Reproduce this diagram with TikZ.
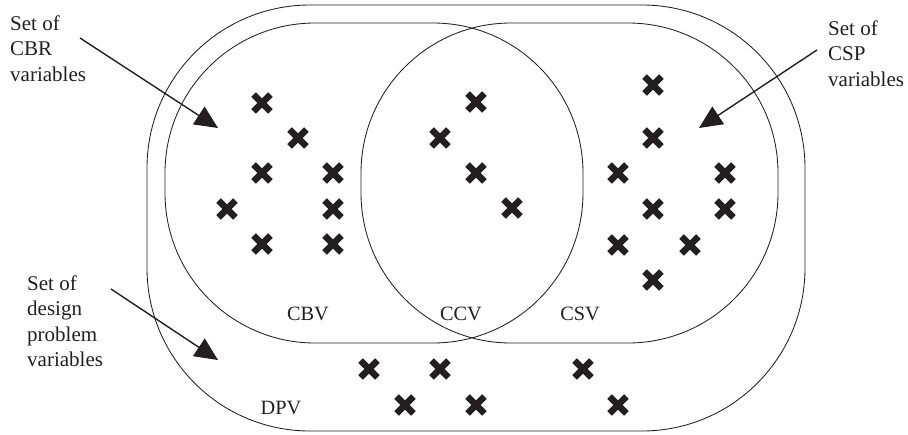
\documentclass[tikz,border=0pt]{standalone}
\usepackage{fontspec}
\setmainfont{Liberation Serif}
\usetikzlibrary{arrows.meta}
\definecolor{ink}{HTML}{231F20}
\tikzset{
  setline/.style={draw=ink, line width=0.85pt},
  arr/.style={draw=ink, line width=1.4pt, -{Triangle[length=23pt,width=21pt]}},
  lbl/.style={inner sep=0pt, anchor=base, font=\fontsize{20.3}{24}\selectfont, text=ink},
  side/.style={inner sep=0pt, anchor=north west, align=left, font=\fontsize{21}{25.5}\selectfont, text=ink},
  xm/.pic={\draw[ink, line width=6.6pt] (-8.4pt,-8.4pt)--(8.4pt,8.4pt) (-8.4pt,8.4pt)--(8.4pt,-8.4pt);}
}
\begin{document}
\begin{tikzpicture}[x=1pt,y=-1pt]
\useasboundingbox (0,0) rectangle (908,434);
% sets
\draw[setline, rounded corners=163pt] (147,5) rectangle (805,431);
\draw[setline, rounded corners=150pt] (165,23) rectangle (583,343);
\draw[setline, rounded corners=150pt] (361,23) rectangle (778,343);
% CBV crosses
\foreach \p in {(262,103),(298,138),(262,173),(333,173),(227,209),(333,209),(262,244),(333,244)}
  \pic at \p {xm};
% CCV crosses
\foreach \p in {(476,102),(440,138),(476,173),(512,208)}
  \pic at \p {xm};
% CSV crosses
\foreach \p in {(653,85),(653,138),(618,173),(725,173),(653,209),(725,209),(618,245),(690,245),(653,280)}
  \pic at \p {xm};
% DPV crosses
\foreach \p in {(369,369),(440,369),(583,369),(405,405),(476,405),(618,405)}
  \pic at \p {xm};
% region labels
\node[lbl] (cbv) at (308,320) {CBV};
\node[lbl] (ccv) at (461,320) {CCV};
\node[lbl] (csv) at (580,320) {CSV};
\node[lbl] (dpv) at (281,414) {DPV};
% side labels
\node[side] (cbr) at (10,15.5) {Set of\\CBR\\variables};
\node[side] (csp) at (828,20.5) {Set of\\CSP\\variables};
\node[side] (dp) at (27,275.5) {Set of\\design\\problem\\variables};
% arrows
\coordinate (cbrs) at (80,38);
\coordinate (cbrt) at (218,128);
\coordinate (csps) at (817,50);
\coordinate (cspt) at (699,128);
\coordinate (dps) at (111,289);
\coordinate (dpt) at (218,360);
\draw[arr] (cbrs) -- (cbrt);
\draw[arr] (csps) -- (cspt);
\draw[arr] (dps) -- (dpt);
\end{tikzpicture}
\end{document}
